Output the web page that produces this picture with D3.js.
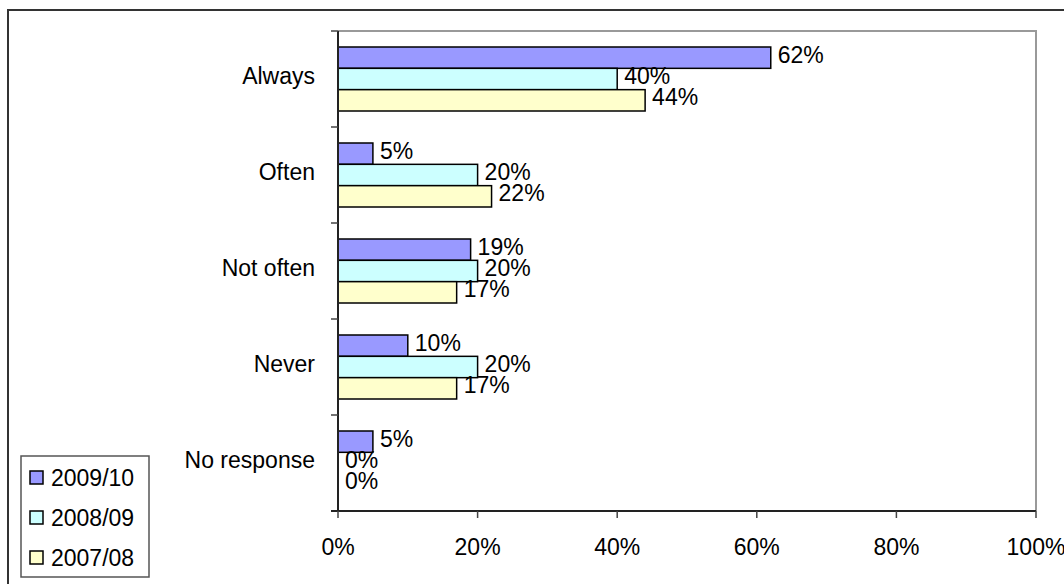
<html>
<head>
<meta charset='UTF-8'>
<title>Responses chart</title>
<script src='https://d3js.org/d3.v7.min.js'></script>
<style>
    body { margin: 0; background: #fff; }
    text { font-family: 'Liberation Sans', Arial, sans-serif; fill: #000; }
</style>
</head>
<body>
<svg id='chart' width='1064' height='584'></svg>
<script type='text/javascript'>
    var categories = ['Always', 'Often', 'Not often', 'Never', 'No response'];
    var seriesNames = ['2009/10', '2008/09', '2007/08'];
    var s2009 = [62, 5, 19, 10, 5];
    var s2008 = [40, 20, 20, 20, 0];
    var s2007 = [44, 22, 17, 17, 0];
    var xTicks = [0, 20, 40, 60, 80, 100];

    var seriesValues = [s2009, s2008, s2007];
    var colors = ['#9999FF', '#CCFFFF', '#FFFFCC'];

    var svg = d3.select('#chart');
    var plot = {left: 338, right: 1036, top: 31, bottom: 511};
    var fontSize = 23;

    // outer chart border
    svg.append('rect')
       .attr('x', 8).attr('y', 10)
       .attr('width', 1080).attr('height', 600)
       .attr('fill', 'none')
       .attr('stroke', '#333').attr('stroke-width', 2);

    var x = d3.scaleLinear().domain([0, 100]).range([plot.left, plot.right]);
    var y = d3.scaleBand().domain(categories).range([plot.top, plot.bottom])
              .paddingInner(1 / 3).paddingOuter(1 / 6);
    var ySub = d3.scaleBand().domain(seriesNames).range([0, y.bandwidth()]);

    // plot area border (top + right)
    svg.append('path')
       .attr('d', 'M' + plot.left + ',' + plot.top + 'H' + plot.right + 'V' + plot.bottom)
       .attr('fill', 'none')
       .attr('stroke', '#999').attr('stroke-width', 2);

    // bars
    var groups = svg.selectAll('.cat')
        .data(categories)
        .enter().append('g')
        .attr('class', 'cat')
        .attr('transform', function(d) { return 'translate(0,' + y(d) + ')'; });

    groups.each(function(cat, ci) {
        var g = d3.select(this);
        seriesNames.forEach(function(s, si) {
            var v = seriesValues[si][ci];
            if (v > 0) {
                g.append('rect')
                 .attr('x', x(0))
                 .attr('y', ySub(s))
                 .attr('width', x(v) - x(0))
                 .attr('height', ySub.bandwidth())
                 .attr('fill', colors[si])
                 .attr('stroke', '#000')
                 .attr('stroke-width', 1.5);
            }
            g.append('text')
             .attr('x', x(v) + 7)
             .attr('y', ySub(s) + ySub.bandwidth() / 2 - 3)
             .attr('dy', '0.35em')
             .style('font-size', fontSize + 'px')
             .text(v + '%');
        });
    });

    // y axis
    var yAxis = svg.append('g');
    yAxis.append('line')
         .attr('x1', plot.left).attr('x2', plot.left)
         .attr('y1', plot.top).attr('y2', plot.bottom)
         .attr('stroke', '#222').attr('stroke-width', 2);
    var bounds = d3.range(categories.length + 1).map(function(i) {
        return plot.top + i * y.step();
    });
    yAxis.selectAll('.ytick').data(bounds).enter().append('line')
         .attr('x1', plot.left - 7).attr('x2', plot.left)
         .attr('y1', function(d) { return d; }).attr('y2', function(d) { return d; })
         .attr('stroke', '#444').attr('stroke-width', 1.5);
    yAxis.selectAll('.ylab').data(categories).enter().append('text')
         .attr('x', plot.left - 23)
         .attr('y', function(d) { return y(d) + y.bandwidth() / 2 - 3; })
         .attr('dy', '0.35em')
         .attr('text-anchor', 'end')
         .style('font-size', fontSize + 'px')
         .text(function(d) { return d; });

    // x axis
    var xAxis = svg.append('g');
    xAxis.append('line')
         .attr('x1', plot.left - 7).attr('x2', plot.right)
         .attr('y1', plot.bottom).attr('y2', plot.bottom)
         .attr('stroke', '#222').attr('stroke-width', 2);
    xAxis.selectAll('.xtick').data(xTicks).enter().append('line')
         .attr('x1', function(d) { return x(d); }).attr('x2', function(d) { return x(d); })
         .attr('y1', plot.bottom).attr('y2', plot.bottom + 7)
         .attr('stroke', '#444').attr('stroke-width', 1.5);
    xAxis.selectAll('.xlab').data(xTicks).enter().append('text')
         .attr('x', function(d) { return x(d); })
         .attr('y', 555)
         .attr('text-anchor', 'middle')
         .style('font-size', fontSize + 'px')
         .text(function(d) { return d + '%'; });

    // legend
    var legend = svg.append('g').attr('transform', 'translate(21,456)');
    legend.append('rect')
          .attr('width', 128).attr('height', 121)
          .attr('fill', '#fff')
          .attr('stroke', '#555').attr('stroke-width', 1.5);
    var items = legend.selectAll('.item').data(seriesNames).enter().append('g')
          .attr('transform', function(d, i) { return 'translate(9,' + (22 + i * 40) + ')'; });
    items.append('rect')
         .attr('x', 0).attr('y', -7)
         .attr('width', 13).attr('height', 13)
         .attr('fill', function(d, i) { return colors[i]; })
         .attr('stroke', '#000').attr('stroke-width', 1.5);
    items.append('text')
         .attr('x', 21).attr('y', 0)
         .attr('dy', '0.35em')
         .style('font-size', fontSize + 'px')
         .text(function(d) { return d; });
</script>
</body>
</html>
